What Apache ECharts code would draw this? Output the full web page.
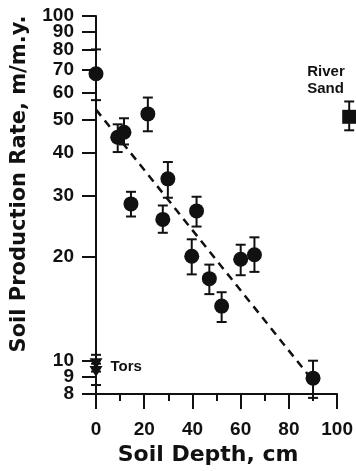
<!DOCTYPE html>
<html>
<head>
<meta charset="utf-8">
<script src="https://cdn.jsdelivr.net/npm/echarts@6/dist/echarts.min.js"></script>
<style>
  html, body { margin: 0; padding: 0; background: #fff; }
  #chart { width: 356px; height: 471px; }
</style>
</head>
<body>
<div id="chart"></div>
<script>
// soil pits: depth (cm), production rate (m/m.y.) and error bar ends
var depth = [0, 9, 11.6, 14.5, 21.5, 27.7, 29.8, 39.7, 41.7, 47, 52.1, 60, 65.7, 90]
var rate  = [68, 44.5, 46, 28.5, 52, 25.7, 33.7, 20.1, 27.2, 17.3, 14.4, 19.7, 20.3, 8.9]
var low   = [57, 40.3, 42.4, 26.2, 46.3, 23.5, 29.7, 17.8, 24.5, 15.6, 12.95, 17.7, 18.1, 7.8]
var high  = [80, 48.5, 50.5, 30.9, 58, 28.2, 37.7, 22.5, 29.9, 19.0, 15.8, 21.7, 22.8, 10]

// tors (zero soil depth)
var torDepth = [0, 0]
var torRate  = [9.8, 9.3]
var torLow   = [9.3, 8.5]
var torHigh  = [10.4, 9.8]

// river sand
var sandDepth = [105]
var sandRate  = [51]
var sandLow   = [46.6]
var sandHigh  = [56.5]

// dashed fit line end points
var fitLine = [[0, 53.5], [88, 9.1]]

// y labels are split over two axes so echarts doesn't drop the crowded ones
var yTicks = [8, 10, 20, 30, 40, 50, 60, 70, 80, 100]
var yTicksExtra = [9, 90]

function zip2 (a, b) {
    return a.map(function (v, i) { return [v, b[i]] })
}
function errData (x, lo, hi) {
    return x.map(function (v, i) { return [v, lo[i], hi[i]] })
}

var labelFont = { color: '#111', fontFamily: 'Liberation Sans', fontWeight: 'bold', fontSize: 19 }
var titleFont = { color: '#111', fontFamily: 'DejaVu Sans', fontWeight: 'bold', fontSize: 21 }
var tickLine = { color: '#111', width: 2 }

function renderErr (params, api) {
    var x = api.value(0)
    var top = api.coord([x, api.value(2)])
    var bot = api.coord([x, api.value(1)])
    var w = 5
    var style = { stroke: '#111', lineWidth: 2 }
    return {
        type: 'group',
        children: [
            { type: 'line', shape: { x1: top[0], y1: top[1], x2: bot[0], y2: bot[1] }, style: style },
            { type: 'line', shape: { x1: top[0] - w, y1: top[1], x2: top[0] + w, y2: top[1] }, style: style },
            { type: 'line', shape: { x1: bot[0] - w, y1: bot[1], x2: bot[0] + w, y2: bot[1] }, style: style }
        ]
    }
}

var chart = echarts.init(document.getElementById('chart'))
var option = {
    animation: false,
    backgroundColor: '#fff',
    grid: { left: 96, right: 18, top: 16, bottom: 75 },
    xAxis: {
        type: 'value',
        min: 0,
        max: 100,
        interval: 20,
        name: 'Soil Depth, cm',
        nameLocation: 'middle',
        nameGap: 45,
        nameTextStyle: Object.assign({}, titleFont, { fontSize: 22, padding: [0, 17, 0, 0] }),
        axisLine: { lineStyle: tickLine },
        axisTick: { inside: false, length: 15, lineStyle: tickLine },
        minorTick: { show: true, splitNumber: 2, length: 7, lineStyle: tickLine },
        axisLabel: Object.assign({ margin: 26, showMaxLabel: true }, labelFont),
        splitLine: { show: false }
    },
    yAxis: [{
        type: 'log',
        position: 'left',
        min: 8,
        max: 100,
        name: 'Soil Production Rate, m/m.y.',
        nameLocation: 'middle',
        nameGap: 66,
        nameTextStyle: Object.assign({ padding: [0, 0, 0, 42] }, titleFont),
        axisLine: { show: true, lineStyle: tickLine },
        // major ticks land on 8, 10, 100; minor ticks fill in 9 and 20..90
        axisTick: { show: true, inside: false, length: 14, lineStyle: tickLine },
        minorTick: { show: true, splitNumber: 9, length: 14, lineStyle: tickLine },
        axisLabel: Object.assign({ margin: 22, customValues: yTicks, hideOverlap: false, showMinLabel: true, showMaxLabel: true }, labelFont),
        splitLine: { show: false },
        minorSplitLine: { show: false }
    }, {
        type: 'log',
        position: 'left',
        offset: 0,
        min: 8,
        max: 100,
        axisLine: { show: false },
        axisTick: { show: false },
        axisLabel: Object.assign({ margin: 22, customValues: yTicksExtra, hideOverlap: false }, labelFont),
        splitLine: { show: false }
    }],
    series: [
        {
            type: 'line',
            data: fitLine,
            symbol: 'none',
            lineStyle: { color: '#111', width: 2.5, type: [8, 6] },
            z: 1
        },
        {
            type: 'custom',
            renderItem: renderErr,
            data: errData(depth, low, high).concat(errData(torDepth, torLow, torHigh), errData(sandDepth, sandLow, sandHigh)),
            encode: { x: 0, y: [1, 2] },
            clip: false,
            z: 2
        },
        {
            type: 'scatter',
            data: zip2(depth, rate),
            symbol: 'circle',
            symbolSize: 15,
            itemStyle: { color: '#111', opacity: 1 },
            clip: false,
            z: 3
        },
        {
            type: 'scatter',
            data: zip2(torDepth, torRate),
            symbol: 'triangle',
            symbolRotate: 180,
            symbolSize: [13, 11],
            itemStyle: { color: '#111', opacity: 1 },
            clip: false,
            z: 3,
            label: {
                show: true,
                position: 'right',
                distance: 8,
                offset: [0, 3],
                formatter: function (p) { return p.dataIndex === 0 ? 'Tors' : '' },
                color: '#111', fontFamily: 'Liberation Sans', fontWeight: 'bold', fontSize: 15
            }
        },
        {
            type: 'scatter',
            data: zip2(sandDepth, sandRate),
            symbol: 'rect',
            symbolSize: 14,
            itemStyle: { color: '#111', opacity: 1 },
            clip: false,
            z: 3,
            label: {
                show: true,
                position: [-35, -46],
                align: 'left',
                verticalAlign: 'top',
                lineHeight: 17,
                formatter: 'River\nSand',
                color: '#111', fontFamily: 'Liberation Sans', fontWeight: 'bold', fontSize: 15
            }
        }
    ]
}
chart.setOption(option)
</script>
</body>
</html>
